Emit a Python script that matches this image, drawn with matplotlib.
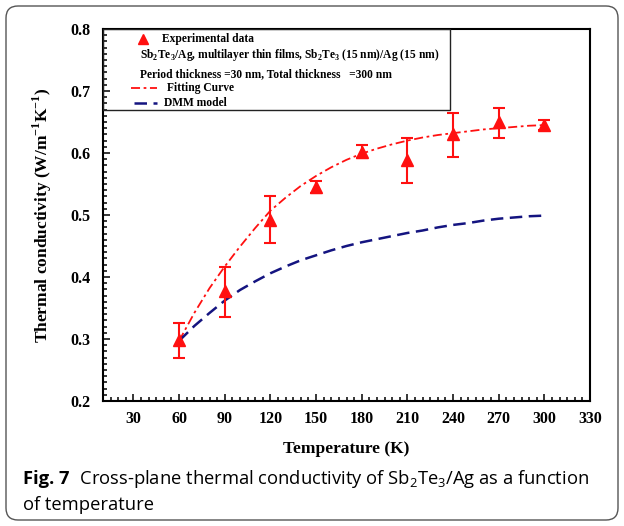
import numpy as np
import matplotlib
matplotlib.use("Agg")
from matplotlib import pyplot as plt
from matplotlib.lines import Line2D
from matplotlib.patches import Rectangle, FancyBboxPatch
from matplotlib.transforms import IdentityTransform

# Data
temp_exp = [60, 90, 120, 150, 180, 210, 240, 270, 300]
k_exp = [0.298, 0.377, 0.492, 0.545, 0.602, 0.589, 0.631, 0.650, 0.645]
k_top = [0.326, 0.416, 0.531, 0.555, 0.613, 0.624, 0.665, 0.673, 0.653]
k_bot = [0.269, 0.335, 0.455, 0.535, 0.592, 0.552, 0.594, 0.624, 0.637]

temp_curve = [60, 70, 80, 90, 100, 110, 120, 130, 140, 150, 160, 170, 180,
              190, 200, 210, 220, 230, 240, 250, 260, 270, 280, 290, 300]
k_fit = [0.297, 0.342, 0.382, 0.417, 0.449, 0.479, 0.507, 0.528, 0.547, 0.563,
         0.577, 0.589, 0.599, 0.607, 0.614, 0.620, 0.625, 0.629, 0.632, 0.635,
         0.638, 0.640, 0.642, 0.644, 0.645]
k_dmm = [0.297, 0.321, 0.342, 0.362, 0.379, 0.393, 0.406, 0.417, 0.427, 0.435,
         0.443, 0.450, 0.456, 0.461, 0.466, 0.471, 0.475, 0.480, 0.484, 0.487,
         0.491, 0.494, 0.496, 0.498, 0.499]

x_ticks = [30, 60, 90, 120, 150, 180, 210, 240, 270, 300, 330]
y_ticks = [0.2, 0.3, 0.4, 0.5, 0.6, 0.7, 0.8]

RED = "#ff1010"
NAVY = "#141480"
serif = "Liberation Serif"

plt.rcParams["font.family"] = serif
plt.rcParams["font.weight"] = "bold"

fig = plt.figure(figsize=(6.24, 5.26), dpi=100)
ax = fig.add_axes([103 / 624, 1 - 401 / 526, 487 / 624, 372 / 526])

# curves
ax.plot(temp_curve, k_fit, color=RED, lw=1.3, ls=(0, (5, 2, 1.5, 2)))
ax.plot(temp_curve, k_dmm, color=NAVY, lw=1.8, ls=(0, (5, 2.6)))

# experimental points
yerr = [np.array(k_exp) - np.array(k_bot), np.array(k_top) - np.array(k_exp)]
ax.errorbar(temp_exp, k_exp, yerr=yerr, fmt="^", color=RED, ms=8.5, mec=RED,
            ecolor=RED, elinewidth=1.5, capsize=4, capthick=1.5, zorder=5)

ax.set_xlim(10, 330)
ax.set_ylim(0.2, 0.8)
ax.set_xticks(x_ticks)
ax.set_yticks(y_ticks)
ax.set_xticklabels([str(v) for v in x_ticks])
ax.set_yticklabels([f"{v:.1f}" for v in y_ticks])
ax.set_xticks(np.arange(10, 331, 5), minor=True)
ax.set_yticks(np.arange(0.2, 0.801, 0.01), minor=True)
ax.tick_params(which="both", direction="in", width=1.1, labelsize=11.5)
ax.tick_params(which="major", length=5, pad=7)
ax.tick_params(which="minor", length=3)
ax.tick_params(axis="y", pad=9)
for s in ax.spines.values():
    s.set_linewidth(1.5)

ax.set_xlabel("Temperature (K)", fontsize=12.5, fontweight="bold", labelpad=10)
ax.set_ylabel(r"Thermal conductivity (W/m$^{\mathregular{-1}}$K$^{\mathregular{-1}}$)",
              fontsize=12.5, fontweight="bold", labelpad=12)

# legend box, drawn by hand to follow the original layout
ta = ax.transAxes
ax.add_patch(Rectangle((0, 0.782), 0.7125, 0.218, transform=ta, fill=False,
                       ec="#222222", lw=1.0, zorder=6))
fs = 8.3
ax.add_line(Line2D([0.082], [0.973], transform=ta, marker="^", color=RED, ms=7.5, ls="none"))
ax.text(0.121, 0.973, "Experimental data", transform=ta, fontsize=fs, va="center")
ax.text(0.076, 0.930,
        r"Sb$_\mathregular{2}$Te$_\mathregular{3}$/Ag, multilayer thin films, "
        r"Sb$_\mathregular{2}$Te$_\mathregular{3}$ (15 nm)/Ag (15 nm)",
        transform=ta, fontsize=fs, va="center")
ax.text(0.076, 0.879, "Period thickness =30 nm, Total thickness   =300 nm",
        transform=ta, fontsize=fs, va="center")
ax.add_line(Line2D([0.0575, 0.111], [0.841, 0.841], transform=ta, color=RED,
                   lw=1.3, ls=(0, (5, 2, 1.5, 2))))
ax.text(0.131, 0.841, "Fitting Curve", transform=ta, fontsize=fs, va="center")
ax.add_line(Line2D([0.064, 0.111], [0.801, 0.801], transform=ta, color=NAVY,
                   lw=1.8, ls=(0, (5, 2.6))))
ax.text(0.125, 0.801, "DMM model", transform=ta, fontsize=fs, va="center")

# caption
cap = fig.text(23 / 624, 1 - 479 / 526, "Fig. 7", family="Open Sans",
               fontweight="bold", fontsize=13.2, va="center")
ax.annotate(r"  Cross-plane thermal conductivity of Sb$_\mathregular{2}$Te$_\mathregular{3}$/Ag as a function",
            xy=(1, 0.5), xycoords=cap, va="center", ha="left",
            family="Open Sans", fontweight="normal", fontsize=13.2, annotation_clip=False)
fig.text(23 / 624, 1 - 505 / 526, "of temperature", family="Open Sans",
         fontweight="normal", fontsize=13.2, va="center")

# rounded frame around the whole figure
fig.add_artist(FancyBboxPatch((6, 6), 612, 514, boxstyle="round,pad=0,rounding_size=12",
                              transform=IdentityTransform(), fill=False,
                              ec="#555555", lw=1.0))

fig.savefig("out.png", dpi=100)
